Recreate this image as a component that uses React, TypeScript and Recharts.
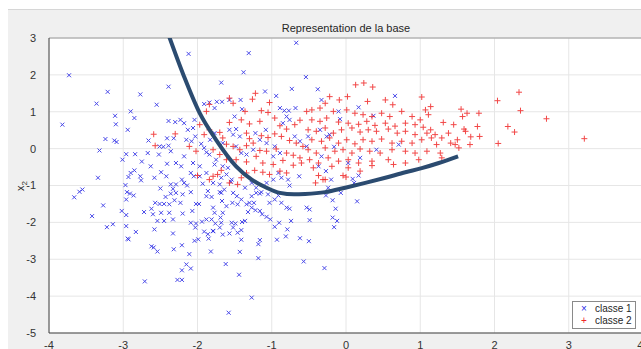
import { CartesianGrid, ReferenceLine, Scatter, ScatterChart, XAxis, YAxis } from "recharts";

// points, [x1, x2]
const classe1: [number, number][] = [
  [-3.73, 1.99], [-3.21, 1.54], [-3.36, 1.22], [-2.77, 1.47], [-2.39, 1.68], [-2.55, 1.19], [-2.9, 1.01], [-2.85, 0.83],
  [-3.11, 0.89], [-3.1, 0.66], [-3.82, 0.65], [-2.94, 0.51], [-3.24, 0.26], [-3.12, 0.22], [-3.09, 0.18], [-3.32, -0.05],
  [-2.66, 0.22], [-2.39, 0.75], [-2.3, 0.72], [-2.41, 0.28], [-2.32, 0.28], [-2.51, 0.06], [-2.46, 0.05], [-2.39, 0.08],
  [-2.96, -0.15], [-2.84, -0.15], [-3.01, -0.3], [-2.75, -0.35], [-2.67, -0.12], [-2.52, -0.16], [-2.36, -0.07], [-2.41, -0.41],
  [-2.63, -0.48], [-2.29, -0.39], [-3.34, -0.79], [-3.66, -1.32], [-3.59, -1.17], [-3.55, -1.11], [-3.42, -1.83], [-3.27, -1.54],
  [-3.22, -2.13], [-3.14, -2.05], [-3.02, -1.69], [-2.96, -1.8], [-2.94, -2.44], [-2.83, -2.26], [-2.96, -2.1], [-2.71, -3.6],
  [-2.62, -2.65], [-2.59, -2.68], [-2.54, -2.79], [-2.21, -2.62], [-2.32, -2.73], [-2.11, -2.86], [-2.27, -3.56], [-2.21, -3.56],
  [-2.21, -3.3], [-2.15, -3.14], [-2.09, -3.25], [-1.62, -3.13], [-1.44, -3.42], [-1.27, -4.04], [-1.58, -4.45], [-1.18, -2.97],
  [-1.18, -2.59], [-1.16, -2.48], [-1.43, -2.8], [-1.82, -2.79], [-1.79, -2.23], [-0.93, -2.47], [-0.62, -2.43], [-0.5, -2.51],
  [-0.57, -3.06], [-0.81, -2.38], [-0.29, -3.24], [-0.49, -1.94], [-0.53, -1.6], [-0.49, -1.65], [-0.18, -1.87], [-0.12, -1.96],
  [-0.16, -2.13], [-0.14, -1.63], [-0.18, -1.4], [-0.27, -1.27], [-0.24, -1.06], [-0.07, -1.2], [0.15, -1.43], [0.09, -0.82],
  [0.11, -0.93], [0.17, -0.73], [-0.27, -0.61], [-0.2, -0.84], [-2.97, -0.99], [-2.95, -1.18], [-2.91, -1.22], [-2.86, -1.27],
  [-2.96, -1.38], [-2.93, -0.77], [-2.9, -0.66], [-2.85, -0.59], [-2.77, -0.75], [-2.76, -0.86], [-2.93, -2.46], [-2.72, -1.72],
  [-2.62, -1.63], [-2.6, -1.78], [-2.57, -1.47], [-2.51, -1.5], [-2.45, -1.5], [-2.38, -1.51], [-2.58, -0.79], [-2.49, -0.64],
  [-2.42, -0.75], [-2.5, -1.08], [-2.36, -0.97], [-2.29, -0.97], [-2.33, -1.09], [-2.36, -1.22], [-2.29, -1.2], [-2.43, -1.31],
  [-2.31, -1.4], [-2.49, -1.74], [-2.38, -1.74], [-2.33, -1.92], [-2.54, -1.96], [-2.45, -1.96], [-2.58, -2.19], [-2.33, -2.3],
  [-2.21, -0.84], [-2.18, -0.93], [-2.14, -1.0], [-2.09, -1.18], [-2.2, -1.24], [-2.23, -1.47], [-2.2, -1.76], [-2.07, -1.69],
  [-2.02, -1.5], [-1.98, -1.5], [-2.09, -2.01], [-2.02, -2.03], [-2.03, -2.14], [-1.94, -1.98], [-2.04, -2.5], [-1.99, -2.46],
  [-1.86, -1.15], [-1.88, -1.29], [-1.81, -1.31], [-1.7, -1.18], [-1.68, -1.2], [-1.64, -1.11], [-1.79, -1.6], [-1.77, -1.74],
  [-1.67, -1.42], [-1.61, -1.56], [-1.66, -1.74], [-1.88, -1.92], [-1.81, -1.92], [-1.69, -1.87], [-1.76, -2.03], [-1.68, -2.01],
  [-1.7, -2.14], [-1.91, -2.25], [-1.86, -2.32], [-1.79, -2.24], [-1.85, -2.44], [-1.66, -2.33], [-1.54, -2.01], [-1.49, -2.03],
  [-1.52, -2.14], [-1.57, -2.3], [-1.46, -2.28], [-1.41, -2.21], [-1.36, -1.96], [-1.4, -1.99], [-1.41, -2.47], [-1.53, -1.47],
  [-1.46, -1.51], [-1.41, -1.38], [-1.52, -1.2], [-1.47, -1.29], [-1.34, -1.51], [-1.3, -1.47], [-1.24, -1.47], [-1.32, -1.72],
  [-1.27, -1.6], [-1.22, -1.67], [-1.16, -1.69], [-1.13, -1.78], [-1.07, -1.85], [-1.21, -1.2], [-1.16, -1.22], [-1.27, -1.29],
  [-1.02, -1.92], [-0.96, -2.12], [-0.9, -2.01], [-0.79, -2.19], [-0.74, -1.96], [-0.87, -1.47], [-0.8, -1.6], [-0.76, -1.63],
  [-1.03, -1.47], [-0.96, -1.38], [-1.05, -1.24], [-0.91, -1.27], [-0.63, -0.75], [-0.78, -0.84], [-0.76, -1.0], [-1.36, -1.06],
  [-1.27, -0.93], [-1.21, -1.06], [-1.14, -1.18], [-1.7, -0.97], [-1.68, -0.79], [-1.79, -0.93], [-1.61, -0.7], [-1.55, -0.9],
  [-1.54, -0.84], [-1.93, -0.95], [-1.97, -0.75], [-1.88, -0.66], [-2.09, -0.66], [-2.05, -0.75], [-0.91, -0.66], [-0.87, -0.79],
  [-1.07, -0.93], [-0.98, -0.84], [-2.12, 2.57], [-1.31, 2.59], [-0.67, 2.87], [-1.38, 2.07], [-1.68, 1.79], [-1.09, 1.55],
  [-0.73, 1.62], [-1.91, 1.21], [-1.84, 1.25], [-1.74, 1.27], [-1.67, 1.27], [-1.57, 1.32], [-1.42, 1.32], [-1.77, 1.1],
  [-1.4, 1.07], [-0.94, 1.43], [-0.89, 1.1], [-0.83, 1.03], [-0.77, 1.03], [-0.68, 1.1], [-1.08, 0.51], [-1.5, 0.87],
  [-2.04, 0.78], [-2.18, 0.69], [-2.23, 0.78], [-2.06, 0.56], [-2.13, 0.51], [-2.03, 0.33], [-2.08, 0.2], [-2.15, 0.24],
  [-1.95, 0.13], [-1.91, 0.02], [-1.83, 0.24], [-1.77, 0.42], [-1.88, -0.1], [-1.84, -0.16], [-1.75, -0.3], [-1.57, 0.51],
  [-1.48, 0.53], [-1.52, 0.38], [-1.43, 0.33], [-1.66, 0.15], [-1.48, 0.06], [-1.41, -0.12], [-1.34, -0.16], [-1.22, 0.42],
  [-1.16, 0.24], [-1.07, 0.15], [-1.25, -0.03], [-0.96, 0.06], [-0.89, -0.12], [-0.98, -0.21], [-0.85, 0.69], [-0.8, 0.87],
  [-0.76, 0.78], [-0.69, 0.33], [-0.62, 0.2], [-2.18, -0.21], [-2.06, -0.39], [-1.97, -0.48], [-2.22, -0.48], [-1.77, -0.43],
  [-1.66, -0.48], [-1.59, -0.52], [-0.54, 1.94], [-0.38, 1.61], [-0.33, 1.32], [0.66, 1.43], [-0.1, 1.01], [0.17, 1.12],
  [0.37, 0.89], [-0.08, 0.8], [-0.35, 0.51], [-0.22, 0.38], [-0.26, 0.33], [-0.51, 0.33], [-0.53, 0.06], [-0.16, 0.05],
  [0.71, 0.11], [0.19, -0.25], [-0.33, -0.21], [-0.37, -0.48], [0.03, -0.39], [0.41, -0.03],
];

const classe2: [number, number][] = [
  [-2.59, 0.39], [-2.3, 0.4], [-2.57, 0.08], [-0.41, -0.93], [-0.28, -0.84], [-0.37, -0.73], [-0.04, -0.73], [0.0, -0.77],
  [0.19, -0.61], [-0.31, -0.84], [-2.0, -0.73], [-1.73, -0.7], [-1.68, -0.59], [-1.57, -0.93], [-1.46, -0.97], [-1.41, -0.79],
  [-1.34, -0.66], [-1.23, -0.59], [-1.12, -0.64], [-1.03, -0.7], [-0.89, -0.61], [-0.8, -0.66], [-1.79, -0.75], [-1.84, -0.84],
  [-1.22, 1.5], [-1.26, 1.34], [-1.03, 1.25], [-1.57, 1.37], [-1.52, 1.23], [-1.84, 1.2], [-1.88, 1.01], [-1.36, 1.01],
  [-1.14, 1.03], [-1.57, 0.71], [-1.41, 0.78], [-1.3, 0.67], [-1.16, 0.74], [-1.05, 0.98], [-0.96, 0.83], [-0.89, 0.62],
  [-0.8, 0.53], [-0.69, 0.65], [-0.62, 0.77], [-1.97, 0.65], [-1.84, 0.51], [-1.91, 0.38], [-1.7, 0.44], [-1.66, 0.29],
  [-1.61, 0.12], [-1.34, 0.42], [-1.3, 0.27], [-1.25, 0.15], [-1.14, 0.35], [-1.05, 0.3], [-0.96, 0.4], [-0.87, 0.33],
  [-0.76, 0.22], [-0.67, 0.15], [-0.58, 0.06], [-1.52, 0.06], [-1.43, -0.03], [-1.34, 0.08], [-1.16, -0.05], [-1.07, -0.07],
  [-0.94, -0.01], [-0.8, -0.12], [-0.71, -0.18], [-0.62, -0.25], [-1.48, -0.3], [-1.34, -0.36], [-1.21, -0.21], [-1.12, -0.39],
  [-0.98, -0.43], [-0.85, -0.32], [-0.71, -0.45], [-0.6, -0.39], [-1.79, -0.03], [-1.7, -0.16], [-1.61, -0.3], [-2.11, 0.06],
  [-2.02, -0.07], [0.13, 1.73], [0.24, 1.78], [0.36, 1.67], [0.53, 1.32], [0.63, 1.19], [1.02, 1.4], [1.07, 1.05],
  [-0.22, 1.41], [-0.09, 1.32], [0.02, 1.41], [0.29, 1.28], [-0.28, 1.23], [-0.35, 1.1], [-0.46, 1.05], [-0.53, 1.01],
  [-0.17, 1.01], [0.01, 1.05], [0.12, 0.96], [0.23, 0.92], [0.35, 0.87], [0.48, 0.96], [0.59, 0.87], [0.75, 1.01],
  [0.89, 0.87], [1.0, 0.78], [1.11, 0.92], [-0.46, 0.78], [-0.35, 0.74], [-0.26, 0.83], [-0.1, 0.72], [0.03, 0.69],
  [0.17, 0.66], [0.28, 0.74], [0.39, 0.63], [0.53, 0.69], [0.66, 0.61], [0.8, 0.69], [0.93, 0.65], [1.04, 0.58],
  [-0.51, 0.51], [-0.4, 0.47], [-0.28, 0.56], [-0.17, 0.42], [-0.06, 0.51], [0.08, 0.56], [0.19, 0.45], [0.3, 0.51],
  [0.41, 0.47], [0.57, 0.53], [0.69, 0.42], [0.8, 0.47], [0.93, 0.38], [1.09, 0.42], [-0.46, 0.24], [-0.33, 0.2],
  [-0.22, 0.29], [-0.1, 0.15], [0.01, 0.24], [0.12, 0.13], [0.23, 0.24], [0.35, 0.2], [0.48, 0.26], [0.62, 0.15],
  [0.75, 0.2], [0.89, 0.15], [1.02, 0.24], [-0.51, -0.03], [-0.4, -0.12], [-0.28, 0.02], [-0.15, -0.07], [-0.04, -0.03],
  [0.08, -0.12], [0.19, -0.01], [0.32, -0.07], [0.46, -0.12], [0.62, -0.03], [0.8, -0.07], [0.93, -0.12], [1.09, -0.07],
  [-0.49, -0.3], [-0.37, -0.39], [-0.24, -0.25], [-0.1, -0.34], [0.03, -0.3], [0.17, -0.39], [0.35, -0.34], [0.57, -0.3],
  [0.8, -0.39], [0.98, -0.3], [-0.44, -0.52], [-0.19, -0.48], [0.03, -0.52], [0.35, -0.46], [0.64, -0.43], [2.33, 1.53],
  [2.04, 1.3], [2.35, 1.03], [2.7, 0.81], [2.18, 0.6], [2.27, 0.45], [2.05, 0.14], [1.55, 1.07], [1.63, 0.96],
  [1.79, 0.96], [1.57, 0.87], [1.31, 0.71], [1.45, 0.65], [1.77, 0.6], [1.59, 0.53], [1.61, 0.47], [1.38, 0.42],
  [1.29, 0.29], [1.5, 0.24], [1.68, 0.32], [1.8, 0.33], [1.14, 1.14], [1.14, 0.51], [1.2, 0.38], [1.15, 0.29],
  [1.22, 0.11], [1.41, 0.15], [1.47, 0.11], [1.52, 0.02], [1.67, 0.11], [1.27, -0.12], [1.29, -0.25], [3.21, 0.27],
];

// decision boundary
const frontiere: [number, number][] = [
  [-2.38, 3.03], [-2.18, 1.95], [-1.97, 0.96], [-1.75, 0.24], [-1.48, -0.48], [-1.27, -0.84], [-1.07, -1.06],
  [-0.89, -1.2], [-0.7, -1.24], [-0.55, -1.23], [-0.28, -1.18], [-0.01, -1.06], [0.26, -0.93], [0.53, -0.79],
  [0.8, -0.64], [1.02, -0.53], [1.25, -0.39], [1.51, -0.21],
];

const xTicks = [-4, -3, -2, -1, 0, 1, 2, 3, 4];
const yTicks = [-5, -4, -3, -2, -1, 0, 1, 2, 3];

const toPts = (arr: [number, number][]) => arr.map(([x, y]) => ({ x, y }));

const BLUE = "#2a2ae6";
const RED = "#f02828";
const FONT = '"Liberation Sans", Arial, sans-serif';

const CrossX = ({ cx, cy }: any) => (
  <path d={`M${cx - 2},${cy - 2}L${cx + 2},${cy + 2}M${cx - 2},${cy + 2}L${cx + 2},${cy - 2}`} stroke={BLUE} strokeWidth={1} opacity={0.85} />
);

const Plus = ({ cx, cy }: any) => (
  <path d={`M${cx - 3},${cy}L${cx + 3},${cy}M${cx},${cy - 3}L${cx},${cy + 3}`} stroke={RED} strokeWidth={1} opacity={0.85} />
);

const YLabel = () => (
  <text x={24} y={186} transform="rotate(-90 24 186)" textAnchor="middle" fontSize={11} fill="#262626" fontFamily={FONT}>
    x<tspan fontSize={8} dy={3}>2</tspan>
  </text>
);

const legendItems = [
  { n: "classe 1", c: BLUE, s: "×" },
  { n: "classe 2", c: RED, s: "+" },
];

export default function App() {
  return (
    <div style={{ position: "absolute", left: 0, top: 0, width: 641, height: 349, overflow: "hidden", background: "#fff", fontFamily: FONT }}>
      <div style={{ position: "absolute", left: 8, top: 9, right: 0, bottom: 0, background: "#f0f0f0", borderTop: "1px solid #d6d6d6" }} />
      <div style={{ position: "absolute", left: 0, top: 0 }}>
        <ScatterChart width={643} height={349} margin={{ top: 38, right: 0, bottom: 0, left: 0 }}>
          <CartesianGrid stroke="#e6e6e6" fill="#fff" />
          <XAxis
            type="number" dataKey="x" domain={[-4, 4]} ticks={xTicks} height={16}
            tick={{ fontSize: 11, fill: "#333", fontFamily: FONT }} tickLine={false} tickMargin={2}
            axisLine={{ stroke: "#404040" }} allowDataOverflow
          />
          <YAxis
            type="number" dataKey="y" domain={[-5, 3]} ticks={yTicks} width={49}
            tick={{ fontSize: 11, fill: "#333", fontFamily: FONT }} tickLine={false} tickMargin={7}
            axisLine={{ stroke: "#404040" }} allowDataOverflow
            label={{ content: () => <YLabel /> }}
          />
          <ReferenceLine y={3} stroke="#9a9a9a" />
          <Scatter name="classe 1" data={toPts(classe1)} shape={CrossX} isAnimationActive={false} />
          <Scatter name="classe 2" data={toPts(classe2)} shape={Plus} isAnimationActive={false} />
          <Scatter
            name="frontiere" data={toPts(frontiere)} shape={() => <g />}
            line={{ stroke: "#2b4b70", strokeWidth: 4 }} lineJointType="monotoneX" isAnimationActive={false}
          />
        </ScatterChart>
      </div>
      <div style={{ position: "absolute", left: 0, width: 692, top: 22, textAlign: "center", fontSize: 11, color: "#262626" }}>
        Representation de la base
      </div>
      <div style={{
        position: "absolute", left: 572, top: 301, width: 62, height: 25, background: "#fff",
        border: "1px solid #8a8a8a", fontSize: 10, color: "#262626", lineHeight: "12px", paddingTop: 1,
        whiteSpace: "nowrap", boxSizing: "content-box",
      }}>
        {legendItems.map((e) => (
          <div key={e.n} style={{ display: "flex", alignItems: "center", height: 12 }}>
            <span style={{ width: 22, flexShrink: 0, textAlign: "center", color: e.c, fontSize: 10 }}>{e.s}</span>
            <span style={{ flexShrink: 0 }}>{e.n}</span>
          </div>
        ))}
      </div>
    </div>
  );
}
